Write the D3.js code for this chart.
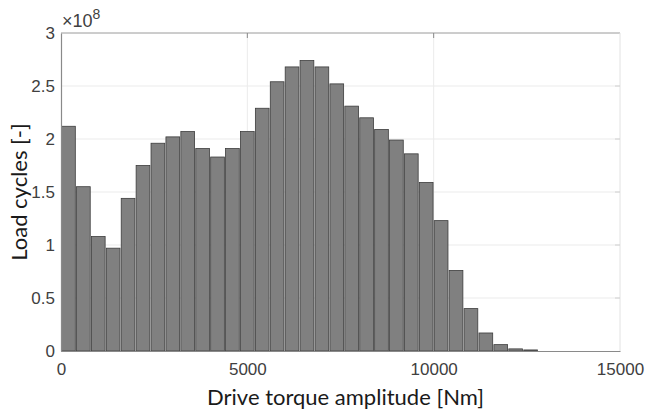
<!DOCTYPE html>
<html>
<head>
<meta charset="utf-8">
<script src="https://cdn.jsdelivr.net/npm/d3@7"></script>
<style>
  body { margin: 0; background: #fff; }
  svg { display: block; }
</style>
</head>
<body>
<svg id="canvas"></svg>
<script>
// bin starts [Nm], bin width 400
let binWidth = 400
let binStarts = [0, 400, 800, 1200, 1600, 2000, 2400, 2800, 3200, 3600, 4000, 4400, 4800, 5200, 5600, 6000,
                 6400, 6800, 7200, 7600, 8000, 8400, 8800, 9200, 9600, 10000, 10400, 10800, 11200, 11600, 12000, 12400]
// load cycles in units of 1e8
let cycles = [2.12, 1.55, 1.08, 0.97, 1.44, 1.75, 1.96, 2.02, 2.07, 1.91, 1.83, 1.91, 2.07, 2.29, 2.54, 2.68,
              2.74, 2.68, 2.52, 2.31, 2.20, 2.09, 1.99, 1.86, 1.59, 1.23, 0.76, 0.40, 0.17, 0.06, 0.02, 0.01]
let xTicks = [0, 5000, 10000, 15000]
let yTicks = [0, 0.5, 1, 1.5, 2, 2.5, 3]

let width = 646
let height = 412
let margin = {left: 61, right: 26, top: 33, bottom: 61}

let canvas = d3.select('#canvas')
canvas.attr('width', width).attr('height', height)

let xScale = d3.scaleLinear()
            .domain([0, 15000])
            .range([margin.left, width - margin.right])

let yScale = d3.scaleLinear()
            .domain([0, 3])
            .range([height - margin.bottom, margin.top])

let tickFont = '"Liberation Sans", Arial, sans-serif'
let labelFont = 'Lato, "Open Sans", sans-serif'

// grid
canvas.append('g')
    .selectAll('line')
    .data(yTicks.slice(1, -1))
    .enter()
    .append('line')
    .attr('x1', xScale(0))
    .attr('x2', xScale(15000))
    .attr('y1', d => yScale(d))
    .attr('y2', d => yScale(d))
    .attr('stroke', '#ebebeb')
    .attr('stroke-width', 1)

canvas.append('g')
    .selectAll('line')
    .data(xTicks.slice(1, -1))
    .enter()
    .append('line')
    .attr('x1', d => xScale(d))
    .attr('x2', d => xScale(d))
    .attr('y1', yScale(0))
    .attr('y2', yScale(3))
    .attr('stroke', '#ebebeb')
    .attr('stroke-width', 1)

// box top / right
canvas.append('line')
    .attr('x1', xScale(0)).attr('x2', xScale(15000))
    .attr('y1', yScale(3)).attr('y2', yScale(3))
    .attr('stroke', '#9a9a9a')
canvas.append('line')
    .attr('x1', xScale(15000)).attr('x2', xScale(15000))
    .attr('y1', yScale(3)).attr('y2', yScale(0))
    .attr('stroke', '#e2e2e2')

// bars
canvas.append('g')
    .selectAll('rect')
    .data(cycles)
    .enter()
    .append('rect')
    .attr('x', (d, i) => xScale(binStarts[i] + binWidth * 0.04))
    .attr('width', xScale(binWidth * 0.92) - xScale(0))
    .attr('y', d => yScale(d))
    .attr('height', d => yScale(0) - yScale(d))
    .attr('fill', '#808080')
    .attr('stroke', '#3c3c3c')
    .attr('stroke-width', 0.8)

// axes
let xAxis = d3.axisBottom(xScale)
            .tickValues(xTicks)
            .tickSize(0)
            .tickPadding(12)
            .tickFormat(d3.format('d'))

let xg = canvas.append('g')
    .attr('transform', `translate(0, ${yScale(0)})`)
    .call(xAxis)
xg.select('.domain').attr('stroke', '#8a8a8a').attr('stroke-width', 1.2)
xg.selectAll('text')
    .style('font-family', tickFont)
    .style('font-size', '17px')
    .attr('fill', '#404040')

let yAxis = d3.axisLeft(yScale)
            .tickValues(yTicks)
            .tickSize(0)
            .tickPadding(6)
            .tickFormat(d => d)

let yg = canvas.append('g')
    .attr('transform', `translate(${margin.left}, 0)`)
    .call(yAxis)
yg.select('.domain').attr('stroke', '#8a8a8a').attr('stroke-width', 1.2)
yg.selectAll('text')
    .style('font-family', tickFont)
    .style('font-size', '17px')
    .attr('fill', '#404040')

// small inner ticks on top and right
canvas.append('g')
    .selectAll('line')
    .data(xTicks.slice(1, -1))
    .enter()
    .append('line')
    .attr('x1', d => xScale(d)).attr('x2', d => xScale(d))
    .attr('y1', yScale(3)).attr('y2', yScale(3) + 5)
    .attr('stroke', '#8a8a8a')
canvas.append('g')
    .selectAll('line')
    .data(yTicks.slice(1, -1))
    .enter()
    .append('line')
    .attr('x1', xScale(15000) - 5).attr('x2', xScale(15000))
    .attr('y1', d => yScale(d)).attr('y2', d => yScale(d))
    .attr('stroke', '#d0d0d0')

// exponent
let expo = canvas.append('text')
    .attr('x', margin.left + 1)
    .attr('y', 27)
    .style('font-family', tickFont)
    .style('font-size', '18px')
    .attr('fill', '#404040')
expo.append('tspan').text('×10')
expo.append('tspan').attr('dy', -8).style('font-size', '14px').text('8')

// labels
canvas.append('text')
    .attr('x', (xScale(0) + xScale(15000)) / 2 + 5)
    .attr('y', 405)
    .attr('text-anchor', 'middle')
    .style('font-family', labelFont)
    .style('font-size', '22px')
    .attr('fill', '#1a1a1a')
    .text('Drive torque amplitude [Nm]')

canvas.append('text')
    .attr('transform', `translate(27, ${(yScale(0) + yScale(3)) / 2}) rotate(-90)`)
    .attr('text-anchor', 'middle')
    .style('font-family', labelFont)
    .style('font-size', '22px')
    .attr('fill', '#1a1a1a')
    .text('Load cycles [-]')
</script>
</body>
</html>
